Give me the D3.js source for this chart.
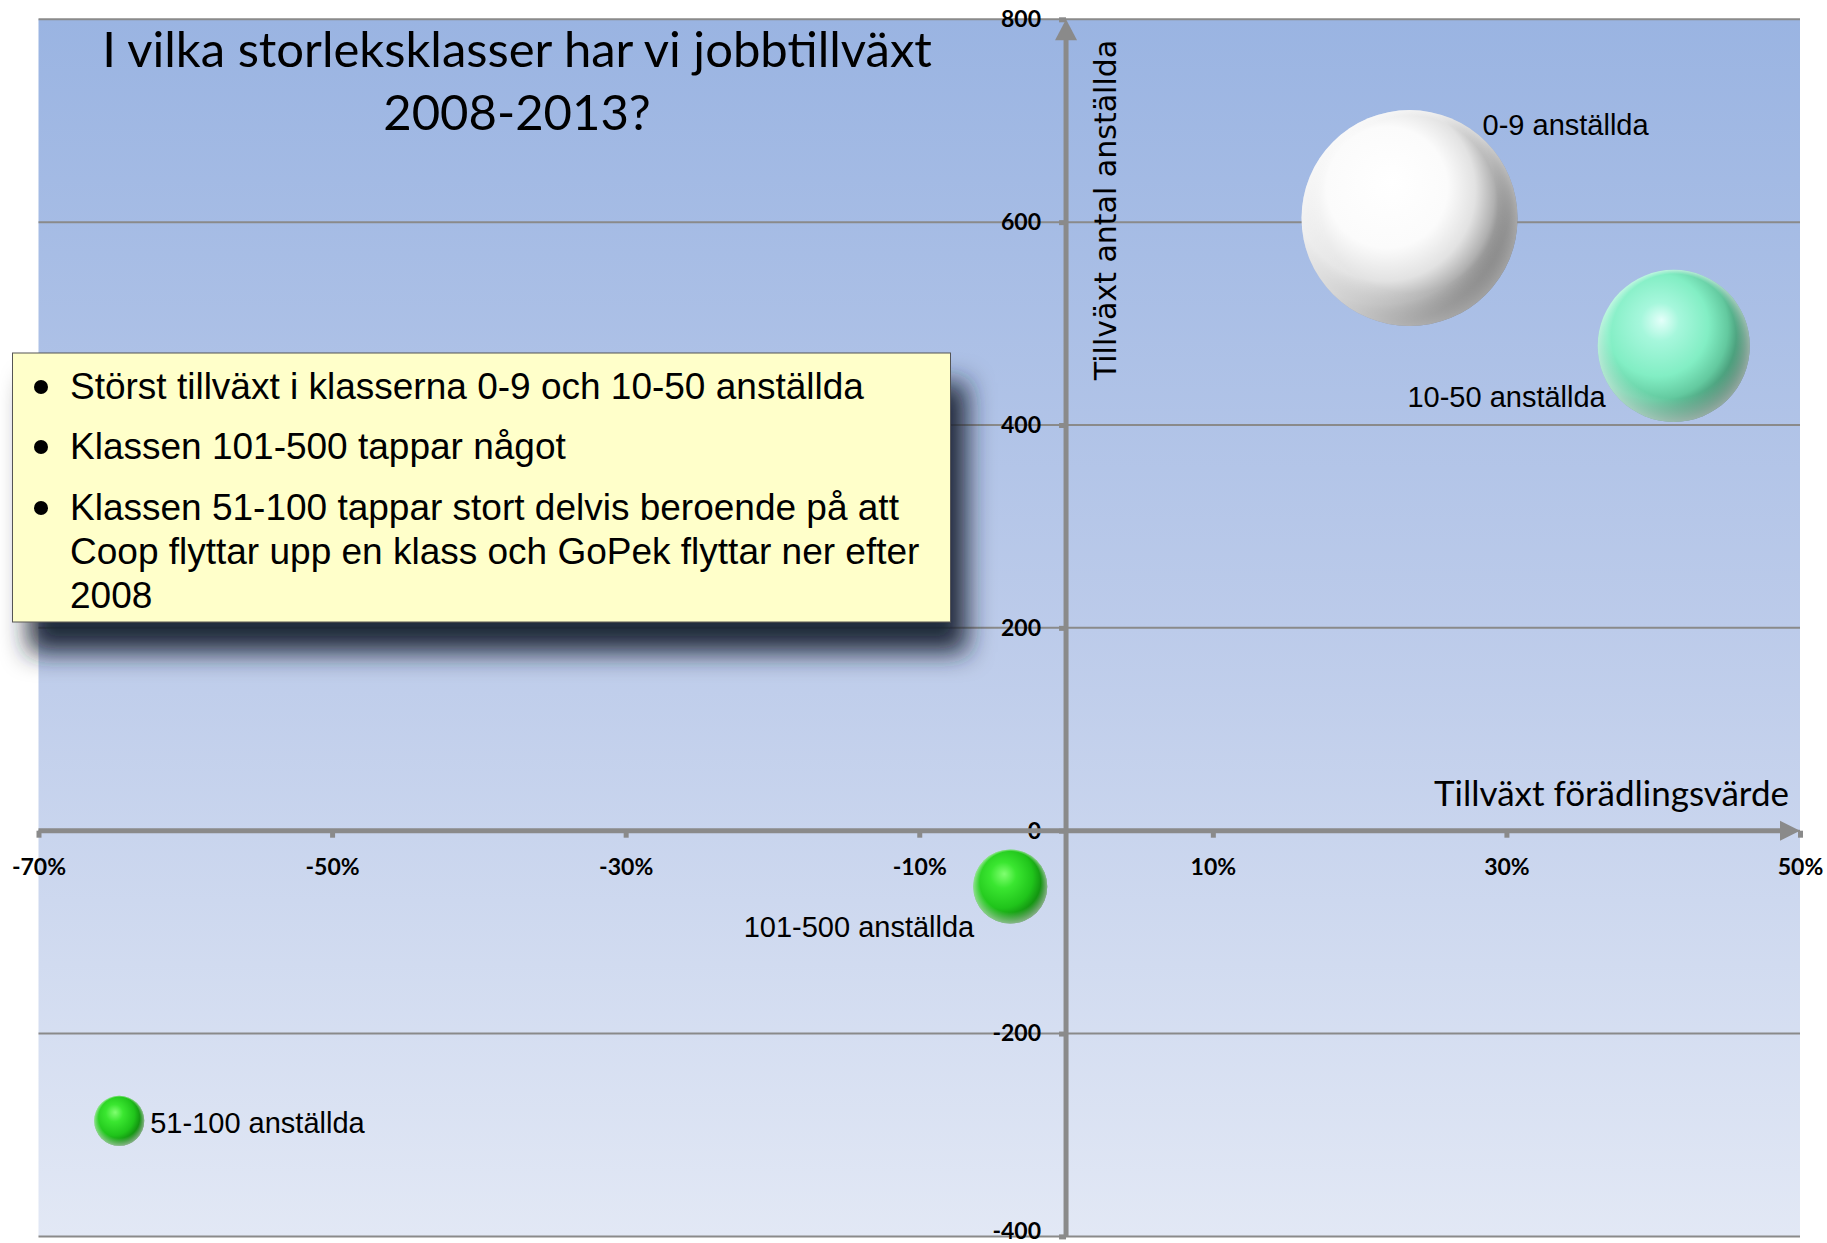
<!DOCTYPE html>
<html>
<head>
<meta charset="utf-8">
<script src="https://cdn.jsdelivr.net/npm/d3@7"></script>
<style>
	body { margin: 0; background: #fff; }
	svg { display: block; }
</style>
</head>
<body>
<div id="chart"></div>
<script>

// storleksklasser och deras värden
var classes = ['0-9 anställda', '10-50 anställda', '101-500 anställda', '51-100 anställda'];
var vardeTillvaxt = [0.234, 0.414, -0.038, -0.645];
var jobbTillvaxt = [604, 478, -55, -286];
var storlek = [11660, 5780, 1370, 625];

var xTicks = [-0.7, -0.5, -0.3, -0.1, 0.1, 0.3, 0.5];
var yTicks = [-400, -200, 0, 200, 400, 600, 800];

var titleLines = ['I vilka storleksklasser har vi jobbtillväxt', '2008-2013?'];
var bullets = [
	['Störst tillväxt i klasserna 0-9 och 10-50 anställda'],
	['Klassen 101-500 tappar något'],
	['Klassen 51-100 tappar stort delvis beroende på att',
	 'Coop flyttar upp en klass och GoPek flyttar ner efter',
	 '2008']
];

var buildChart = function() {

	var W = 1827, H = 1243;
	var left = 38.5, right = 1800, top = 19.3, bottom = 1236.4;
	var axisColor = '#8a8a8a';

	var svg = d3.select('#chart')
		.append('svg')
		.attr('width', W)
		.attr('height', H);

	var defs = svg.append('defs');

	var bg = defs.append('linearGradient')
		.attr('id', 'bg')
		.attr('x1', 0).attr('y1', 0).attr('x2', 0).attr('y2', 1);
	bg.append('stop').attr('offset', '0%').attr('stop-color', '#9ab4e2');
	bg.append('stop').attr('offset', '50%').attr('stop-color', '#bccbea');
	bg.append('stop').attr('offset', '100%').attr('stop-color', '#e2e8f5');

	// sfärer
	var sphere = function(id, stops) {
		var g = defs.append('radialGradient')
			.attr('id', id)
			.attr('cx', 0.36).attr('cy', 0.4).attr('r', 0.7)
			.attr('fx', 0.42).attr('fy', 0.33);
		stops.forEach(function(s) {
			g.append('stop').attr('offset', s[0]).attr('stop-color', s[1]);
		});
	};
	sphere('s0', [['0%', '#ffffff'], ['40%', '#fbfbfb'], ['60%', '#e2e2e2'], ['74%', '#b0b0b0'], ['86%', '#6e6e6e'], ['100%', '#333333']]);
	sphere('s1', [['0%', '#e4fffa'], ['18%', '#a6f7dc'], ['48%', '#82eec4'], ['68%', '#63c99f'], ['84%', '#3f8a6b'], ['100%', '#1e3e33']]);
	sphere('s2', [['0%', '#80ff70'], ['25%', '#3ae630'], ['60%', '#20c41b'], ['80%', '#129010'], ['100%', '#0a560a']]);

	var rim = defs.append('radialGradient')
		.attr('id', 'rim')
		.attr('cx', 0.5).attr('cy', 0.5).attr('r', 0.5)
		.attr('fx', 0.5).attr('fy', 0.15);
	rim.append('stop').attr('offset', '82%').attr('stop-color', '#fff').attr('stop-opacity', 0);
	rim.append('stop').attr('offset', '100%').attr('stop-color', '#fff').attr('stop-opacity', 0.5);

	var shadow = defs.append('filter')
		.attr('id', 'shadow')
		.attr('x', '-10%').attr('y', '-20%')
		.attr('width', '130%').attr('height', '170%');
	shadow.append('feGaussianBlur').attr('in', 'SourceAlpha').attr('stdDeviation', 13).attr('result', 'blur');
	shadow.append('feOffset').attr('in', 'blur').attr('dx', 16).attr('dy', 30).attr('result', 'off');
	shadow.append('feFlood').attr('flood-color', '#1a2232').attr('flood-opacity', 0.95);
	shadow.append('feComposite').attr('in2', 'off').attr('operator', 'in').attr('result', 'sh');
	var merge = shadow.append('feMerge');
	merge.append('feMergeNode').attr('in', 'sh');
	merge.append('feMergeNode').attr('in', 'SourceGraphic');

	var x = d3.scaleLinear()
		.domain([-0.7, 0.5])
		.range([left, right]);

	var y = d3.scaleLinear()
		.domain([-400, 800])
		.range([bottom, top]);

	var r = d3.scaleSqrt()
		.domain([0, d3.max(storlek)])
		.range([0, 108]);

	svg.append('rect')
		.attr('x', left).attr('y', top)
		.attr('width', right - left).attr('height', bottom - top)
		.attr('fill', 'url(#bg)');

	// rutnät
	svg.append('g')
		.selectAll('line')
		.data(yTicks)
		.enter()
		.append('line')
		.attr('x1', left).attr('x2', right)
		.attr('y1', function(d) {return y(d)})
		.attr('y2', function(d) {return y(d)})
		.attr('stroke', axisColor)
		.attr('stroke-width', 2);

	// axlar
	var hyphen = function(f) {
		return function(d) {return f(d).replace('\u2212', '-')};
	};

	var xAxis = d3.axisBottom(x)
		.tickValues(xTicks)
		.tickSize(7)
		.tickPadding(21)
		.tickFormat(hyphen(d3.format('.0%')));

	var yAxis = d3.axisLeft(y)
		.tickValues(yTicks)
		.tickSize(7)
		.tickPadding(18)
		.tickFormat(hyphen(d3.format('d')));

	var gx = svg.append('g')
		.attr('transform', 'translate(0,' + y(0) + ')')
		.call(xAxis);

	var gy = svg.append('g')
		.attr('transform', 'translate(' + x(0) + ',0)')
		.call(yAxis);

	[gx, gy].forEach(function(g) {
		g.select('.domain').remove();
		g.selectAll('line').attr('stroke', axisColor).attr('stroke-width', 5);
		g.selectAll('text')
			.attr('fill', '#000')
			.style('font-family', 'Lato, sans-serif')
			.style('font-weight', 'bold')
			.style('font-size', '23px');
	});
	gy.selectAll('text').filter(function(d) {return d === -400}).attr('dy', '0.1em');

	svg.append('line')
		.attr('x1', left).attr('x2', right - 18)
		.attr('y1', y(0)).attr('y2', y(0))
		.attr('stroke', axisColor).attr('stroke-width', 5);
	svg.append('path')
		.attr('d', 'M' + (right - 20) + ',' + (y(0) - 10) + 'L' + right + ',' + y(0) + 'L' + (right - 20) + ',' + (y(0) + 10) + 'Z')
		.attr('fill', axisColor);

	svg.append('line')
		.attr('x1', x(0)).attr('x2', x(0))
		.attr('y1', bottom).attr('y2', top + 18)
		.attr('stroke', axisColor).attr('stroke-width', 5);
	svg.append('path')
		.attr('d', 'M' + (x(0) - 11) + ',' + (top + 21) + 'L' + x(0) + ',' + top + 'L' + (x(0) + 11) + ',' + (top + 21) + 'Z')
		.attr('fill', axisColor);

	svg.append('text')
		.text('Tillväxt förädlingsvärde')
		.attr('x', 1789)
		.attr('y', 806)
		.attr('text-anchor', 'end')
		.style('font-family', 'Lato, sans-serif')
		.style('font-size', '35px');

	svg.append('text')
		.text('Tillväxt antal anställda')
		.attr('transform', 'translate(1116,210) rotate(-90)')
		.attr('text-anchor', 'middle')
		.style('font-family', '"DejaVu Sans", sans-serif')
		.style('font-size', '30px');

	// rubrik
	svg.append('g')
		.selectAll('text')
		.data(titleLines)
		.enter()
		.append('text')
		.text(function(d) {return d})
		.attr('x', 517)
		.attr('y', function(d, i) {return 67 + i * 63})
		.attr('text-anchor', 'middle')
		.style('font-family', 'Lato, sans-serif')
		.style('font-size', '49px');

	// textruta
	var box = svg.append('g');
	box.append('rect')
		.attr('x', 12.5).attr('y', 353)
		.attr('width', 938).attr('height', 269)
		.attr('fill', '#ffffca')
		.attr('stroke', '#555')
		.attr('stroke-width', 1)
		.attr('filter', 'url(#shadow)');

	var by = [399, 459, 520];
	bullets.forEach(function(lines, i) {
		box.append('circle')
			.attr('cx', 41).attr('cy', by[i] - 12)
			.attr('r', 7)
			.attr('fill', '#000');
		lines.forEach(function(line, j) {
			box.append('text')
				.text(line)
				.attr('x', 70)
				.attr('y', by[i] + j * 44)
				.style('font-family', '"Liberation Sans", Arial, sans-serif')
				.style('font-size', '37px');
		});
	});

	// bubblor
	var data = classes.map(function(c, i) {
		return {name: c, x: vardeTillvaxt[i], y: jobbTillvaxt[i], size: storlek[i]};
	});
	var fills = ['url(#s0)', 'url(#s1)', 'url(#s2)', 'url(#s2)'];

	var bubbles = svg.append('g')
		.selectAll('g')
		.data(data)
		.enter()
		.append('g');

	bubbles.append('circle')
		.attr('cx', function(d) {return x(d.x)})
		.attr('cy', function(d) {return y(d.y)})
		.attr('r', function(d) {return r(d.size)})
		.attr('fill', function(d, i) {return fills[i]});

	bubbles.append('circle')
		.attr('cx', function(d) {return x(d.x)})
		.attr('cy', function(d) {return y(d.y)})
		.attr('r', function(d) {return r(d.size)})
		.attr('fill', 'url(#rim)');

	// etiketter: [dx, dy, ankare]
	var labelPos = [[73, -93, 'start'], [-68, 51, 'end'], [-36, 40, 'end'], [31, 2, 'start']];

	bubbles.append('text')
		.text(function(d) {return d.name})
		.attr('x', function(d, i) {return x(d.x) + labelPos[i][0]})
		.attr('y', function(d, i) {return y(d.y) + labelPos[i][1]})
		.attr('dy', '0.35em')
		.attr('text-anchor', function(d, i) {return labelPos[i][2]})
		.style('font-family', '"Liberation Sans", Arial, sans-serif')
		.style('font-size', '29px');
};

buildChart();
</script>
</body>
</html>
